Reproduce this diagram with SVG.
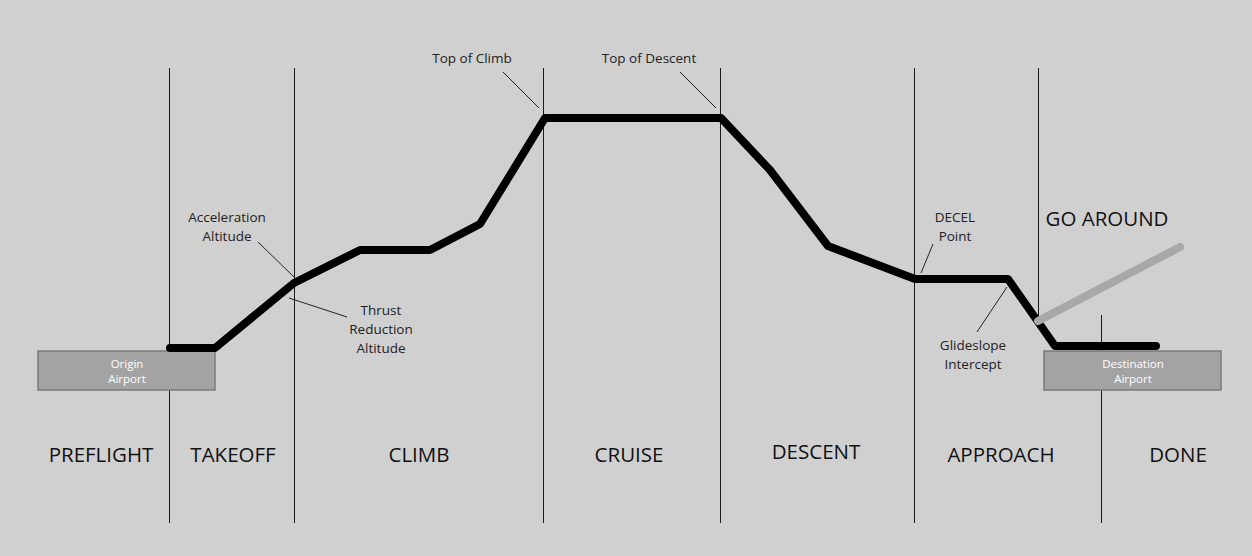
<svg xmlns="http://www.w3.org/2000/svg" width="1252" height="556" viewBox="0 0 1252 556">
<style>
.bg{fill:#d0d0d0}
.vl{stroke:#1a1a1a;stroke-width:1;fill:none}
.co{stroke:#222;stroke-width:1;fill:none}
.box{fill:#a3a3a3;stroke:#7a7a7a;stroke-width:1.5}
.bt{font-family:"Open Sans","Noto Sans",sans-serif;font-size:11.5px;fill:#fff;text-anchor:middle}
.sm{font-family:"Open Sans","Noto Sans",sans-serif;font-size:13.5px;fill:#222;text-anchor:middle}
.ph{font-family:"Open Sans","Noto Sans",sans-serif;font-size:20.5px;fill:#111;text-anchor:middle}
</style>
<rect class="bg" width="1252" height="556"/>
<g id="phase-lines">
<line class="vl" x1="169.5" y1="68" x2="169.5" y2="523"/>
<line class="vl" x1="294.5" y1="68" x2="294.5" y2="523"/>
<line class="vl" x1="543.5" y1="68" x2="543.5" y2="523"/>
<line class="vl" x1="720.5" y1="68" x2="720.5" y2="523"/>
<line class="vl" x1="914.5" y1="68" x2="914.5" y2="523"/>
<line class="vl" x1="1038.5" y1="68" x2="1038.5" y2="322"/>
<line class="vl" x1="1101.5" y1="315" x2="1101.5" y2="523"/>
</g>
<g id="origin-airport">
<rect class="box" x="38" y="351" width="177" height="39"/>
<text class="bt" x="127" y="368">Origin</text>
<text class="bt" x="127" y="383">Airport</text>
</g>
<g id="destination-airport">
<rect class="box" x="1044" y="351" width="177" height="39"/>
<text class="bt" x="1133" y="368">Destination</text>
<text class="bt" x="1133" y="383">Airport</text>
</g>
<g id="connectors">
<polyline fill="none" stroke="#000" stroke-width="8" stroke-linejoin="round" stroke-linecap="round" points="170,348 215,348 294,283 360,250 430,250 480,224 545,118 721,118 770,170 828,246 915,279 1008,279 1055,346 1156,346"/>
<line x1="1038" y1="321" x2="1180" y2="247" stroke="#a8a8a8" stroke-width="8" stroke-linecap="round"/>
<line class="co" x1="503" y1="72" x2="539" y2="108"/>
<line class="co" x1="680" y1="72" x2="716" y2="108"/>
<line class="co" x1="258" y1="242" x2="294" y2="277"/>
<line class="co" x1="289" y1="298" x2="347" y2="317"/>
<line class="co" x1="933" y1="244" x2="921" y2="273"/>
<line class="co" x1="1007" y1="287" x2="977" y2="332"/>
</g>
<g id="top-of-climb"><text class="sm" x="472" y="63">Top of Climb</text></g>
<g id="top-of-descent"><text class="sm" x="649" y="63">Top of Descent</text></g>
<g id="acceleration-altitude"><text class="sm" x="227" y="222">Acceleration</text><text class="sm" x="227" y="241">Altitude</text></g>
<g id="thrust-reduction"><text class="sm" x="381" y="315">Thrust</text><text class="sm" x="381" y="334">Reduction</text><text class="sm" x="381" y="353">Altitude</text></g>
<g id="decel-point"><text class="sm" x="955" y="222">DECEL</text><text class="sm" x="955" y="241">Point</text></g>
<g id="glideslope"><text class="sm" x="973" y="350">Glideslope</text><text class="sm" x="973" y="369">Intercept</text></g>
<g id="go-around"><text class="ph" x="1107" y="226">GO AROUND</text></g>
<g id="phases">
<text class="ph" x="101" y="462">PREFLIGHT</text>
<text class="ph" x="233" y="462">TAKEOFF</text>
<text class="ph" x="419" y="462">CLIMB</text>
<text class="ph" x="629" y="462">CRUISE</text>
<text class="ph" x="816" y="459">DESCENT</text>
<text class="ph" x="1001" y="462">APPROACH</text>
<text class="ph" x="1178" y="462">DONE</text>
</g>
</svg>
